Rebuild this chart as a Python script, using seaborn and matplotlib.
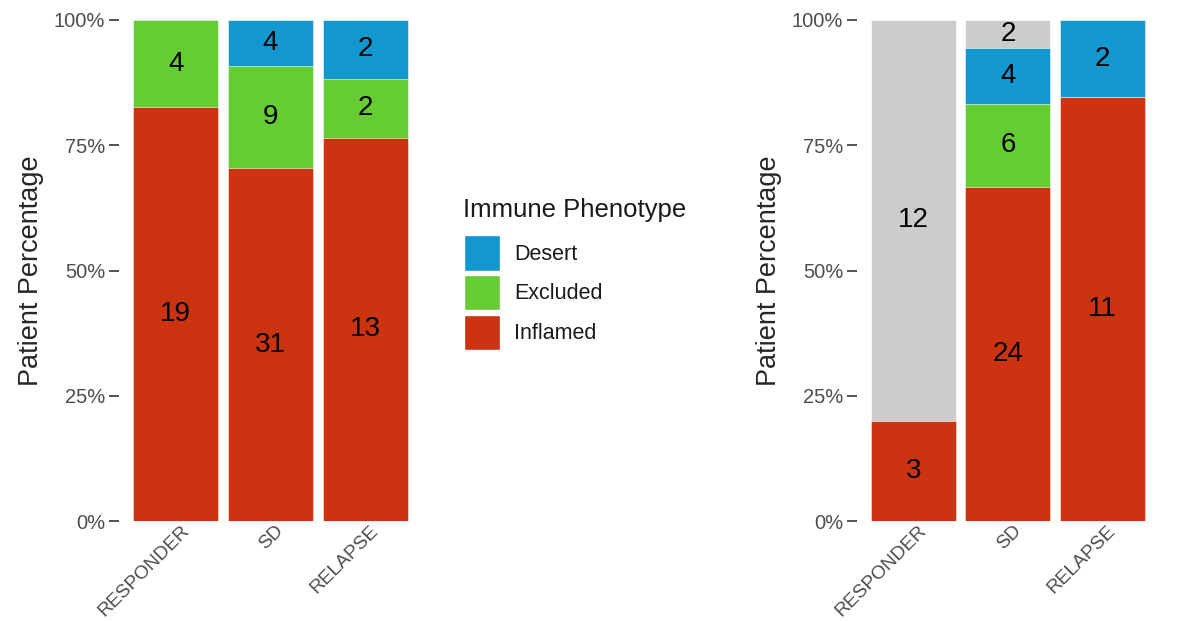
import numpy as np
import pandas as pd
import seaborn as sns
import matplotlib.pyplot as plt
import matplotlib.transforms as mtransforms
from matplotlib.patches import Patch

# categories and counts
groups = ['RESPONDER', 'SD', 'RELAPSE']
phenotypes = ['Inflamed', 'Excluded', 'Desert', 'NA']   # bottom -> top

left_inflamed = [19, 31, 13]
left_excluded = [4, 9, 2]
left_desert = [0, 4, 2]
left_na = [0, 0, 0]

right_inflamed = [3, 24, 11]
right_excluded = [0, 6, 0]
right_desert = [0, 4, 2]
right_na = [12, 2, 0]

colors = {'Inflamed': '#cc3311', 'Excluded': '#66cc33', 'Desert': '#1297cf', 'NA': '#cccccc'}

sns.set_theme(style='white')
plt.rcParams['font.family'] = ['Liberation Sans', 'DejaVu Sans']


def make_df(inf, exc, des, na):
    rows = []
    for i, g in enumerate(groups):
        for p, v in zip(phenotypes, [inf[i], exc[i], des[i], na[i]]):
            rows.append({'group': g, 'phenotype': p, 'n': v})
    df = pd.DataFrame(rows)
    df['pct'] = df['n'] / df.groupby('group')['n'].transform('sum')
    df['cum'] = df.groupby('group')['pct'].cumsum()
    df['mid'] = df['cum'] - df['pct'] / 2
    return df


def draw(ax, df):
    # overlay cumulative bars from the top layer down
    for p in phenotypes[::-1]:
        sub = df[df['phenotype'] == p]
        sns.barplot(data=sub, x='group', y='cum', order=groups, color=colors[p],
                    width=0.9, edgecolor='white', linewidth=0.4, saturation=1, ax=ax)
    for _, r in df[df['n'] > 0].iterrows():
        ax.text(groups.index(r['group']), r['mid'], str(r['n']), ha='center', va='center',
                fontsize=20, color='black')
    ax.set_ylim(0, 1)
    ax.set_xlim(-0.6, 2.6)
    ax.set_yticks([0, 0.25, 0.5, 0.75, 1.0])
    ax.set_yticklabels(['0%', '25%', '50%', '75%', '100%'])
    ax.set_xlabel('')
    ax.set_ylabel('Patient Percentage', fontsize=19.5, labelpad=7)
    ax.tick_params(axis='y', colors='#333333', labelcolor='#4d4d4d', labelsize=14.5,
                   length=7, width=1.2, left=True, pad=3)
    ax.tick_params(axis='x', labelcolor='#4d4d4d', labelsize=13.8, length=0, pad=1,
                   bottom=False)
    offset = mtransforms.ScaledTranslation(0.045, 0.0, ax.figure.dpi_scale_trans)
    for lab in ax.get_xticklabels():
        lab.set_rotation(45)
        lab.set_ha('right')
        lab.set_va('top')
        lab.set_rotation_mode('anchor')
        lab.set_transform(lab.get_transform() + offset)
    for s in ax.spines.values():
        s.set_visible(False)


fig = plt.figure(figsize=(11.82, 6.21), dpi=100)
ax1 = fig.add_axes([0.1007, 0.161, 0.2563, 0.8068])
ax2 = fig.add_axes([0.725, 0.161, 0.2555, 0.8068])

draw(ax1, make_df(left_inflamed, left_excluded, left_desert, left_na))
draw(ax2, make_df(right_inflamed, right_excluded, right_desert, right_na))

handles = [Patch(facecolor=colors[p], edgecolor='white', label=p) for p in ['Desert', 'Excluded', 'Inflamed']]
fig.text(0.3917, 0.662, 'Immune Phenotype', fontsize=18.5, color='#1a1a1a', va='center', ha='left')
leg = fig.legend(handles=handles, loc='upper left',
                 bbox_to_anchor=(0.3765, 0.6522), frameon=False, fontsize=15.5,
                 handlelength=1.65, handleheight=2.15,
                 labelspacing=0.2, handletextpad=0.65, alignment='left')
for t in leg.get_texts():
    t.set_color('#1a1a1a')

fig.savefig('out.png', dpi=100)
